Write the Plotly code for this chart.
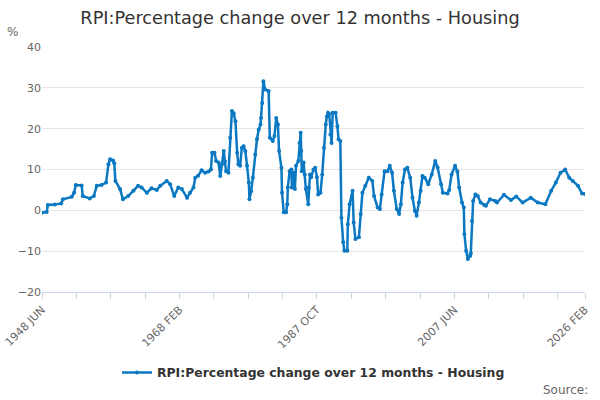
import pandas as pd
import plotly.graph_objects as go

# Monthly readings taken off the published chart (sampled at turning points)
months = [
    "1948-06", "1949-02", "1949-04", "1950-04", "1951-03", "1951-06", "1952-09", "1953-01",
    "1953-04", "1954-02", "1954-04", "1955-04", "1955-11", "1956-04", "1956-12", "1957-08",
    "1957-12", "1958-03", "1958-08", "1958-10", "1958-12", "1959-08", "1960-01", "1960-10",
    "1961-07", "1962-03", "1962-09", "1963-06", "1964-02", "1964-11", "1965-05", "1966-04",
    "1966-10", "1967-05", "1967-12", "1968-06", "1969-03", "1969-08", "1970-02", "1970-05",
    "1970-10", "1971-04", "1971-10", "1972-04", "1972-08", "1972-10", "1973-02", "1973-05",
    "1973-09", "1973-12", "1974-03", "1974-06", "1974-08", "1974-10", "1975-02", "1975-05",
    "1975-08", "1975-11", "1976-02", "1976-05", "1976-07", "1976-10", "1977-01", "1977-04",
    "1977-07", "1977-10", "1978-01", "1978-02", "1978-05", "1978-08", "1978-12", "1979-03",
    "1979-06", "1979-09", "1979-10", "1979-12", "1980-02", "1980-05", "1980-11", "1981-01",
    "1981-06", "1981-09", "1981-12", "1982-03", "1982-05", "1982-09", "1982-10", "1983-01",
    "1983-05", "1983-07", "1983-08", "1983-11", "1984-02", "1984-03", "1984-06", "1984-08",
    "1984-10", "1985-02", "1985-04", "1985-06", "1985-07", "1985-08", "1985-11", "1986-01",
    "1986-03", "1986-07", "1986-08", "1986-10", "1986-12", "1987-04", "1987-07", "1987-10",
    "1987-12", "1988-04", "1988-07", "1988-10", "1989-01", "1989-03", "1989-05", "1989-07",
    "1989-09", "1989-11", "1990-01", "1990-06", "1990-09", "1990-11", "1991-02", "1991-04",
    "1991-07", "1991-09", "1992-02", "1992-03", "1992-06", "1992-11", "1993-01", "1993-04",
    "1993-10", "1994-01", "1994-04", "1994-09", "1995-03", "1995-09", "1995-12", "1996-06",
    "1996-10", "1997-01", "1997-06", "1997-11", "1998-03", "1998-07", "1998-10", "1999-03",
    "1999-07", "1999-10", "2000-01", "2000-05", "2000-09", "2001-02", "2001-06", "2001-10",
    "2002-01", "2002-05", "2002-08", "2002-11", "2003-03", "2003-09", "2004-03", "2004-09",
    "2005-01", "2005-07", "2005-10", "2006-06", "2006-09", "2007-01", "2007-07", "2007-11",
    "2008-02", "2008-07", "2008-10", "2008-11", "2009-02", "2009-05", "2009-09", "2009-10",
    "2009-12", "2010-02", "2010-06", "2010-10", "2011-03", "2011-09", "2011-12", "2012-07",
    "2013-04", "2013-07", "2014-07", "2015-07", "2016-04", "2017-03", "2018-05", "2019-05",
    "2020-06", "2021-04", "2021-12", "2022-08", "2023-04", "2023-11", "2024-05", "2025-02",
    "2025-09", "2026-02",
]
housing = [
    -0.6, -0.4, 1.3, 1.4, 1.7, 2.7, 3.3, 4.3,
    6.2, 6.1, 3.5, 2.9, 3.5, 6.0, 6.2, 6.8,
    11.3, 12.5, 12.2, 11.5, 7.2, 5.2, 2.7, 3.5,
    4.8, 6.0, 5.6, 4.3, 5.4, 5.0, 6.0, 7.2,
    6.4, 3.5, 5.6, 5.2, 3.1, 4.3, 5.6, 8.0,
    8.5, 9.8, 9.2, 9.5, 10.0, 14.1, 14.1, 12.1,
    11.7, 8.4, 11.3, 14.5, 12.0, 9.6, 9.2, 17.8,
    24.3, 23.8, 21.8, 14.1, 11.3, 10.9, 15.3, 15.7,
    14.5, 10.9, 6.8, 2.7, 4.7, 8.0, 13.7, 17.4,
    19.8, 21.0, 22.6, 26.3, 31.6, 29.6, 29.2, 17.8,
    17.0, 18.2, 22.6, 21.0, 14.5, 10.4, 4.3, -0.5,
    -0.5, 1.5, 5.6, 9.6, 10.0, 5.6, 9.2, 5.2,
    10.9, 12.1, 16.5, 19.0, 14.5, 9.6, 11.7, 8.8,
    5.2, 1.5, 5.6, 8.8, 8.1, 10.0, 10.4, 8.1,
    3.9, 4.3, 8.8, 15.3, 21.0, 23.0, 23.9, 23.6,
    18.6, 16.5, 23.9, 23.9, 20.6, 17.4, 17.0, -1.8,
    -7.8, -9.9, -9.9, -3.4, 1.5, 4.8, -3.0, -7.0,
    -6.6, -0.9, 4.3, 6.0, 8.0, 7.2, 3.5, 0.7,
    0.3, 3.9, 9.6, 9.6, 10.9, 9.2, 4.8, 0.3,
    -0.9, 1.5, 6.8, 10.0, 10.4, 8.0, 3.1, -0.1,
    -1.3, 1.9, 4.8, 8.4, 8.0, 6.4, 8.8, 12.1,
    10.5, 6.4, 4.3, 4.1, 5.0, 8.8, 10.9, 9.5,
    5.6, 1.9, 0.7, -5.8, -9.9, -11.9, -11.1, -10.5,
    -2.6, 2.3, 3.9, 3.5, 1.9, 1.3, 1.1, 2.7,
    2.3, 1.9, 3.8, 2.5, 3.4, 1.9, 3.1, 1.9,
    1.5, 4.8, 6.8, 9.2, 10.0, 8.0, 7.2, 6.0,
    4.1, 4.0,
]

series_name = "RPI:Percentage change over 12 months - Housing"
y_ticks = [-20, -10, 0, 10, 20, 30, 40]

# x ticks every 59 months, label on every 4th, plus the final month
tick_dates = list(pd.date_range("1948-06-01", periods=16, freq="59MS")) + [pd.Timestamp("2026-02-01")]
tick_text = []
for i, d in enumerate(tick_dates):
    if i % 4 == 0 or i == len(tick_dates) - 1:
        tick_text.append(d.strftime("%Y %b").upper())
    else:
        tick_text.append("")

line_color = "#0b78c2"

fig = go.Figure()
fig.add_trace(go.Scatter(
    x=pd.to_datetime(months),
    y=housing,
    mode="lines+markers",
    name=series_name,
    line=dict(color=line_color, width=2.5),
    marker=dict(color=line_color, size=4),
))

fig.update_layout(
    width=600, height=400,
    margin=dict(l=42, r=15, t=47, b=108),
    paper_bgcolor="white", plot_bgcolor="white",
    font=dict(family="DejaVu Sans", color="#666666"),
    title=dict(text=series_name, x=0.5, xanchor="center", y=0.955, yanchor="middle",
               font=dict(size=17.7, color="#333333")),
    showlegend=True,
    legend=dict(orientation="h", x=0.5, xanchor="center", y=-0.33, yanchor="middle",
                font=dict(size=12.4, color="#333333", weight="bold")),
    xaxis=dict(
        type="date", automargin=False,
        range=["1948-06-01", "2026-02-01"],
        tickvals=tick_dates, ticktext=tick_text,
        tickangle=-45, tickfont=dict(size=11, color="#666666"),
        ticks="outside", ticklen=6, tickcolor="#ccd6eb",
        showline=True, linecolor="#ccd6eb", linewidth=1,
        showgrid=False, zeroline=False,
    ),
    yaxis=dict(
        automargin=False,
        range=[-20, 40], tickvals=y_ticks,
        tickfont=dict(size=11, color="#666666"),
        showgrid=True, gridcolor="#e6e6e6", gridwidth=1,
        zeroline=False, showline=False, ticks="",
    ),
    annotations=[
        dict(text="%", xref="paper", yref="paper", x=-0.055, y=1.06,
             xanchor="center", yanchor="middle", showarrow=False,
             font=dict(size=12, color="#666666")),
        dict(text="Source:", xref="paper", yref="paper", x=1.01, y=-0.4,
             xanchor="right", yanchor="middle", showarrow=False,
             font=dict(size=12, color="#666666")),
    ],
)

# drop the browser's default page margin so the chart sits at the top-left corner
fig.write_html("out.html", config={"displayModeBar": False},
               post_script="document.body.style.margin='0';")
